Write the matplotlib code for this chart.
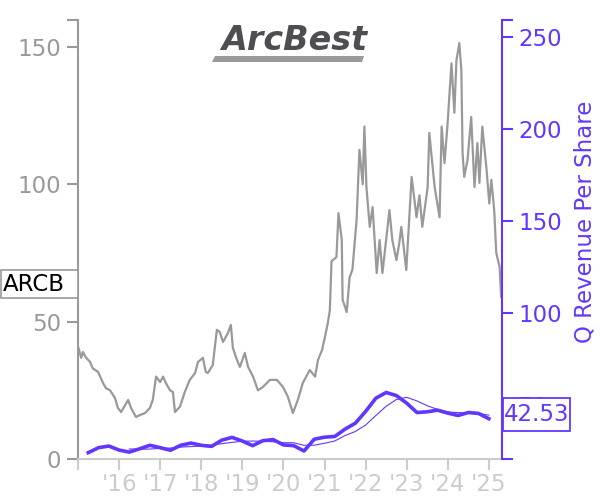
import matplotlib
matplotlib.use("Agg")
import matplotlib.pyplot as plt
from matplotlib.patches import Polygon, Rectangle

# ---- data ----
price_years = [2015.00, 2015.08, 2015.12, 2015.19, 2015.29, 2015.36, 2015.49, 2015.61, 2015.68, 2015.78,
               2015.90, 2015.97, 2016.05, 2016.22, 2016.29, 2016.41, 2016.51, 2016.63, 2016.75, 2016.82,
               2016.90, 2017.00, 2017.07, 2017.14, 2017.24, 2017.31, 2017.36, 2017.48, 2017.60, 2017.72,
               2017.85, 2017.92, 2018.04, 2018.11, 2018.16, 2018.28, 2018.38, 2018.45, 2018.53, 2018.65,
               2018.72, 2018.77, 2018.87, 2018.94, 2019.06, 2019.14, 2019.26, 2019.38, 2019.50, 2019.67,
               2019.84, 2019.99, 2020.11, 2020.23, 2020.35, 2020.47, 2020.64, 2020.77, 2020.84, 2020.94,
               2021.01, 2021.08, 2021.13, 2021.17, 2021.29, 2021.34, 2021.42, 2021.44, 2021.54,
               2021.61, 2021.68, 2021.78, 2021.85, 2021.93, 2021.97, 2022.02, 2022.10, 2022.17, 2022.27,
               2022.34, 2022.41, 2022.58, 2022.65, 2022.75, 2022.82, 2022.87, 2022.99, 2023.12, 2023.24,
               2023.31, 2023.38, 2023.51, 2023.55, 2023.68, 2023.80, 2023.85, 2023.92, 2023.99, 2024.09,
               2024.16, 2024.21, 2024.28, 2024.33, 2024.36, 2024.40, 2024.48, 2024.57, 2024.65, 2024.72,
               2024.77, 2024.84, 2024.94, 2025.01, 2025.06, 2025.13, 2025.18, 2025.26, 2025.30]
price_values = [41.0, 36.8, 39.0, 37.0, 35.4, 33.0, 31.7, 27.6, 25.8, 25.0,
                22.2, 18.6, 17.1, 21.5, 18.6, 15.3, 16.0, 16.7, 18.6, 21.5,
                30.0, 28.0, 30.0, 27.6, 25.0, 24.4, 17.1, 19.0, 24.4, 28.8,
                31.3, 35.3, 36.8, 31.7, 31.3, 34.2, 47.0, 46.2, 42.6, 45.9,
                48.8, 40.4, 36.0, 33.5, 38.6, 33.5, 30.0, 25.0, 26.2, 28.8,
                28.8, 26.2, 22.6, 16.7, 21.5, 27.6, 32.4, 30.0, 36.0, 39.7,
                44.4, 49.5, 54.2, 72.0, 73.5, 89.5, 79.7, 58.0, 53.5,
                66.0, 69.0, 87.0, 112.5, 100.0, 121.0, 99.0, 84.5, 91.7, 67.7,
                79.7, 67.7, 90.6, 79.7, 72.4, 78.6, 84.5, 68.8, 102.7, 88.0,
                96.0, 84.5, 99.0, 118.7, 99.0, 88.0, 121.0, 107.7, 121.0, 144.0,
                126.0, 145.0, 151.4, 141.6, 111.4, 102.7, 108.8, 124.5, 99.0, 115.0,
                100.5, 121.0, 106.0, 93.0, 101.6, 90.6, 75.0, 70.0, 59.0]

rev_years = [2015.25, 2015.50, 2015.75, 2016.00, 2016.25, 2016.50, 2016.75, 2017.00, 2017.25, 2017.50,
             2017.75, 2018.00, 2018.25, 2018.50, 2018.75, 2019.00, 2019.25, 2019.50, 2019.75, 2020.00,
             2020.25, 2020.50, 2020.75, 2021.00, 2021.25, 2021.50, 2021.75, 2022.00, 2022.25, 2022.50,
             2022.75, 2023.00, 2023.25, 2023.50, 2023.75, 2024.00, 2024.25, 2024.50, 2024.75, 2025.00]
rev_values = [24.1, 26.8, 27.7, 25.5, 24.4, 26.2, 28.1, 26.8, 25.4, 28.1,
              29.3, 28.1, 27.5, 30.9, 32.4, 30.4, 27.9, 30.6, 31.2, 28.3,
              27.9, 25.0, 31.4, 32.5, 32.9, 36.9, 40.1, 46.5, 53.7, 56.8,
              55.1, 51.0, 45.9, 46.3, 47.2, 45.6, 44.3, 45.9, 45.4, 42.53]

avg_years = rev_years[4:]
avg_values = [26.1, 26.0, 26.05, 26.4, 26.6, 27.1, 27.4, 27.7, 28.25, 28.95,
              29.7, 30.3, 30.4, 30.3, 30.0, 29.5, 29.5, 28.1, 28.15, 29.2,
              30.45, 33.4, 35.6, 39.1, 44.3, 49.3, 53.0, 54.15, 52.2, 49.6,
              47.6, 46.25, 45.85, 45.75, 45.3, 44.5]

year_ticks = [2015, 2016, 2017, 2018, 2019, 2020, 2021, 2022, 2023, 2024, 2025]
year_labels = ["", "'16", "'17", "'18", "'19", "'20", "'21", "'22", "'23", "'24", "'25"]
left_ticks = [0, 50, 100, 150]
right_ticks = [50, 100, 150, 200, 250]
ticker = "ARCB"
last_rev = "42.53"

# ---- styling ----
GRAY = "#999999"
LIGHT = "#cccccc"
PURPLE = "#6236ff"
FS = 16.5
W, H = 600, 500

def fx(px):
    return px / W

def fy(py):
    return 1 - py / H

fig = plt.figure(figsize=(6, 5), dpi=100)
ax = fig.add_axes([0.13, 0.082, 0.7067, 0.878])
ax2 = ax.twinx()

ax.plot(price_years, price_values, color=GRAY, lw=1.6, zorder=2)
ax2.plot(avg_years, avg_values, color=PURPLE, lw=0.8, zorder=3)
ax2.plot(rev_years, rev_values, color=PURPLE, lw=2.6, zorder=4)

ax.set_xlim(2015.0, 2025.32)
ax.set_ylim(0, 159.8)
ax2.set_ylim(20.65, 259.2)

ax.set_xticks(year_ticks)
ax.set_xticklabels(year_labels)
ax.set_yticks(left_ticks)
ax.set_yticks([159.8], minor=True)
ax2.set_yticks(right_ticks)
ax2.set_yticks([20.65, 259.2], minor=True)

for a in (ax, ax2):
    a.spines["top"].set_visible(False)
ax.patch.set_visible(False)
ax2.patch.set_visible(False)
ax.spines["right"].set_visible(False)
ax2.spines["left"].set_visible(False)
ax2.spines["bottom"].set_visible(False)
ax.spines["left"].set_color(GRAY)
ax.spines["left"].set_linewidth(1.5)
ax.spines["bottom"].set_color(LIGHT)
ax.spines["bottom"].set_linewidth(1.5)
ax2.spines["right"].set_color(PURPLE)
ax2.spines["right"].set_linewidth(1.5)

ax.tick_params(axis="y", which="both", colors=GRAY, labelsize=FS, length=8, width=1.5, pad=4)
ax.tick_params(axis="x", colors=LIGHT, labelsize=FS, length=8, width=1.5, pad=2)
ax2.tick_params(axis="y", which="both", colors=PURPLE, labelsize=FS, length=8, width=1.5, pad=4)

ax2.set_ylabel("Q Revenue Per Share", color=PURPLE, fontsize=FS)
ax2.yaxis.set_label_coords(1.168, 0.54)

# last value box
fig.patches.append(Rectangle((fx(503), fy(431)), fx(67), 33 / H, transform=fig.transFigure,
                             fc="white", ec=PURPLE, lw=1.3, zorder=10))
fig.text(fx(536.5), fy(414.5), last_rev, ha="center", va="center", fontsize=FS,
         color=PURPLE, zorder=11)

# ticker box
fig.patches.append(Rectangle((fx(0.5), fy(298)), fx(77.5), 28 / H, transform=fig.transFigure,
                             fc="white", ec=GRAY, lw=1.2, zorder=10))
fig.text(fx(3), fy(284.5), ticker, ha="left", va="center", fontsize=FS, color="black", zorder=11)

# logo
fig.text(fx(294), fy(40), "ArcBest", ha="center", va="center", fontsize=24,
         fontweight="bold", fontstyle="italic", color="#4d4d52", family="DejaVu Sans")
bar = Polygon([[fx(212), fy(62)], [fx(362), fy(62)], [fx(364), fy(56)], [fx(215), fy(56)]],
              closed=True, transform=fig.transFigure, fc="#9a9a9a", ec="none")
fig.patches.append(bar)

fig.savefig("out.png", dpi=100)
